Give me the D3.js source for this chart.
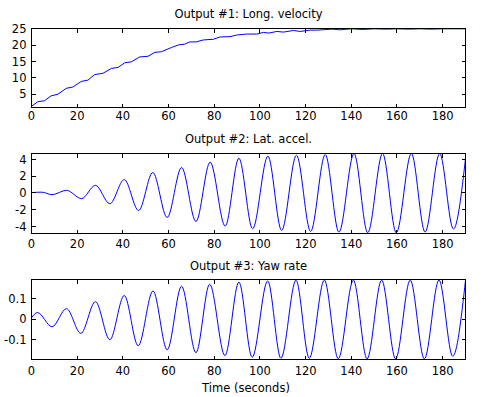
<!DOCTYPE html>
<html lang="en">
<head>
    <meta charset="UTF-8">
    <title>Vehicle outputs</title>
    <script src="https://d3js.org/d3.v7.min.js"></script>
    <style>
        body { margin: 0; background: #ffffff; }
        text { font-family: "DejaVu Sans", Arial, sans-serif; font-size: 11.5px; fill: #000; }
        .frame { shape-rendering: crispEdges; }
    </style>
</head>
<body>
    <div id="chart"></div>

    <script>
        // Data: [time (s), value]
        const velocity = [
            [0, 1.3], [2.8, 2.7], [5.7, 3.0], [8.6, 4.5], [11.6, 5.0], [15.2, 6.8], [18.1, 7.2],
            [21.8, 8.9], [24.7, 9.3], [27.6, 11.0], [31.3, 11.4], [35, 12.9], [37.9, 13.2],
            [40.8, 14.6], [43.7, 14.9], [47.4, 16.4], [51, 16.6], [54, 17.8], [56.9, 18.0],
            [61.3, 19.3], [64.5, 20.1], [67, 20.3], [69.3, 21.0], [72.2, 21.0], [75.2, 21.6],
            [79.6, 21.8], [82.5, 22.5], [86.9, 22.6], [89.8, 23.1], [94.2, 23.4], [98.6, 23.4],
            [101.5, 23.9], [104, 23.7], [107.4, 24.2], [110.3, 24.0], [114.7, 24.5], [117.6, 24.2],
            [122, 24.6], [125, 24.6], [131.6, 24.9], [135, 24.7], [140, 25.0], [145, 24.8],
            [150, 25.0], [155, 24.9], [160, 25.0], [165, 24.9], [170, 25.0], [175, 24.9],
            [180, 25.0], [185, 25.0], [190, 25.0]
        ];

        // peaks and troughs of the lateral acceleration
        const latAccel = [
            [0, 0.05], [4.5, 0.1], [9.0, -0.2], [15.3, 0.32], [21.9, -0.67], [28.0, 0.92],
            [34.3, -1.28], [40.6, 1.6], [46.9, -2.1], [53.1, 2.45], [59.4, -2.92], [65.7, 3.05],
            [72.0, -3.4], [78.2, 3.68], [84.8, -3.96], [90.8, 4.16], [96.8, -4.28], [103.5, 4.4],
            [109.5, -4.48], [116.0, 4.52], [122.2, -4.6], [128.6, 4.6], [134.6, -4.68],
            [141.2, 4.72], [147.2, -4.76], [153.7, 4.72], [159.7, -4.76], [166.3, 4.72],
            [172.3, -4.68], [178.7, 4.72], [184.7, -4.3], [190, 4.12]
        ];

        // peaks and troughs of the yaw rate
        const yawRate = [
            [0, 0.007], [2.6, 0.032], [9.0, -0.037], [15.3, 0.051], [21.6, -0.069], [28.0, 0.085],
            [34.3, -0.1], [40.6, 0.115], [46.7, -0.129], [53.2, 0.137], [59.4, -0.149],
            [65.7, 0.16], [72.0, -0.163], [78.0, 0.17], [84.7, -0.177], [90.8, 0.18],
            [96.6, -0.185], [103.4, 0.186], [109.2, -0.19], [115.8, 0.189], [121.6, -0.19],
            [128.2, 0.19], [134.3, -0.193], [140.9, 0.19], [146.9, -0.193], [153.3, 0.19],
            [159.4, -0.193], [165.8, 0.19], [172, -0.193], [178.4, 0.19], [184.4, -0.18],
            [190, 0.188]
        ];

        const timeTicks = [0, 20, 40, 60, 80, 100, 120, 140, 160, 180];
        const velocityTicks = [5, 10, 15, 20, 25];
        const accelTicks = [-4, -2, 0, 2, 4];
        const yawTicks = [-0.1, 0, 0.1];

        const panels = [
            { title: "Output #1: Long. velocity", data: velocity, domain: [0.93, 25.1], ticks: velocityTicks,
              top: 28.5, bottom: 107.5, labelDy: 12, titleY: 17.5, curve: d3.curveLinear },
            { title: "Output #2: Lat. accel.", data: latAccel, domain: [-4.84, 4.72], ticks: accelTicks,
              top: 153.5, bottom: 233.5, labelDy: 14, titleY: 142.5, curve: d3.curveMonotoneX },
            { title: "Output #3: Yaw rate", data: yawRate, domain: [-0.196, 0.1927], ticks: yawTicks,
              top: 279.5, bottom: 359.5, labelDy: 15, titleY: 269.5, curve: d3.curveMonotoneX }
        ];

        const W = 483, H = 397;
        const left = 31.5, right = 465.5;
        const tickLen = 4;

        const svg = d3.select("#chart")
            .append("svg")
            .attr("width", W)
            .attr("height", H);

        const x = d3.scaleLinear().domain([0, 190]).range([left, right]);

        panels.forEach((p, i) => {
            const y = d3.scaleLinear().domain(p.domain).range([p.bottom, p.top]);
            const g = svg.append("g");

            g.append("clipPath").attr("id", "clip" + i)
                .append("rect")
                .attr("x", left).attr("y", p.top)
                .attr("width", right - left).attr("height", p.bottom - p.top);

            // curve
            g.append("path")
                .datum(p.data)
                .attr("clip-path", `url(#clip${i})`)
                .attr("fill", "none")
                .attr("stroke", "#0000ff")
                .attr("stroke-width", 1)
                .attr("d", d3.line().x(d => x(d[0])).y(d => y(d[1])).curve(p.curve));

            // inward ticks on all four sides
            const frame = g.append("g").attr("class", "frame").attr("stroke", "#000");
            timeTicks.forEach(t => {
                frame.append("line").attr("x1", x(t)).attr("x2", x(t))
                    .attr("y1", p.bottom).attr("y2", p.bottom - tickLen);
                frame.append("line").attr("x1", x(t)).attr("x2", x(t))
                    .attr("y1", p.top).attr("y2", p.top + tickLen);
            });
            p.ticks.forEach(v => {
                frame.append("line").attr("x1", left).attr("x2", left + tickLen)
                    .attr("y1", y(v)).attr("y2", y(v));
                frame.append("line").attr("x1", right).attr("x2", right - tickLen)
                    .attr("y1", y(v)).attr("y2", y(v));
            });

            // box
            frame.append("rect")
                .attr("x", left).attr("y", p.top)
                .attr("width", right - left).attr("height", p.bottom - p.top)
                .attr("fill", "none");

            // tick labels
            g.selectAll(".xl").data(timeTicks).enter().append("text")
                .attr("x", d => x(d))
                .attr("y", p.bottom + p.labelDy)
                .attr("text-anchor", "middle")
                .text(d => d);

            g.selectAll(".yl").data(p.ticks).enter().append("text")
                .attr("x", left - 5)
                .attr("y", d => y(d))
                .attr("dy", "0.36em")
                .attr("text-anchor", "end")
                .text(d => d);

            g.append("text")
                .attr("x", (left + right) / 2)
                .attr("y", p.titleY)
                .attr("text-anchor", "middle")
                .text(p.title);
        });

        svg.append("text")
            .attr("x", 246)
            .attr("y", 391.5)
            .attr("text-anchor", "middle")
            .text("Time (seconds)");
    </script>
</body>
</html>
